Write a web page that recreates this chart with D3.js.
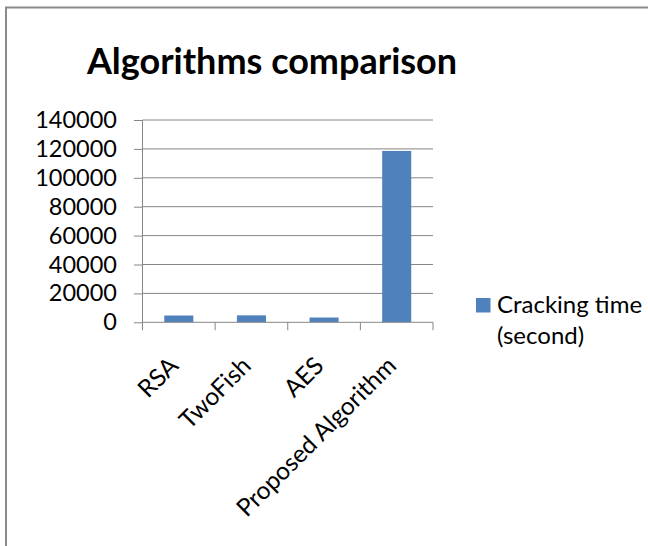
<!DOCTYPE html>
<html><head><meta charset="utf-8">
<script src="https://cdn.jsdelivr.net/npm/d3@7"></script>
<style>html,body{margin:0;padding:0;background:#fff;}</style>
</head><body>
<svg id="chart" width="648" height="546"></svg>
<script>
const categories = ["RSA", "TwoFish", "AES", "Proposed Algorithm"];
const values = [4700, 4800, 3300, 118600];
const yTicks = [0, 20000, 40000, 60000, 80000, 100000, 120000, 140000];
const seriesName = ["Cracking time", "(second)"];
const title = "Algorithms comparison";

const svg = d3.select("#chart");
const font = "Lato, 'Open Sans', sans-serif";
// frame
svg.append("path").attr("d", "M6,546 V7.5 H648").attr("fill", "none").attr("stroke", "#8a8a8a").attr("stroke-width", 2);

const m = {left: 142.5, right: 433, top: 120, bottom: 322.3};
const x = d3.scaleBand().domain(categories).range([m.left, m.right]).paddingInner(0.6).paddingOuter(0.3);
const xb = d3.scaleBand().domain(categories).range([m.left, m.right]);
const y = d3.scaleLinear().domain([0, 140000]).range([m.bottom, m.top]);

// gridlines
svg.append("g").selectAll("line").data(yTicks.slice(1)).join("line")
  .attr("x1", m.left).attr("x2", m.right)
  .attr("y1", d => y(d)).attr("y2", d => y(d))
  .attr("stroke", "#868686").attr("stroke-width", 1);

// y axis
const ya = svg.append("g").attr("transform", `translate(${m.left},0)`)
  .call(d3.axisLeft(y).tickValues(yTicks).tickSize(8.5).tickPadding(17).tickFormat(d3.format("d")));
ya.selectAll("path,line").attr("stroke", "#868686");
ya.select(".domain").attr("d", `M0,${m.bottom}V${m.top}`);
ya.selectAll("text").attr("font-family", font).attr("font-size", 23.5).attr("fill", "#000");

// bars
svg.append("g").selectAll("rect").data(values).join("rect")
  .attr("x", (d, i) => x(categories[i]))
  .attr("width", x.bandwidth())
  .attr("y", d => y(d))
  .attr("height", d => y(0) - y(d))
  .attr("fill", "#4F81BD");

// x axis
const xa = svg.append("g").attr("transform", `translate(0,${m.bottom})`);
xa.append("line").attr("x1", m.left).attr("x2", m.right).attr("y1", 0).attr("y2", 0).attr("stroke", "#868686");
const bounds = categories.map(c => xb(c)).concat([m.right]);
xa.selectAll("line.tk").data(bounds).join("line").attr("class", "tk")
  .attr("x1", d => d).attr("x2", d => d).attr("y1", 0).attr("y2", 8)
  .attr("stroke", "#868686");
xa.selectAll("text").data(categories).join("text")
  .attr("transform", d => `translate(${xb(d) + xb.bandwidth() / 2 + 1},${45}) rotate(-45)`)
  .attr("text-anchor", "end")
  .attr("font-family", font).attr("font-size", 24.5).attr("fill", "#000")
  .text(d => d);

// title
svg.append("text").attr("x", 272).attr("y", 74).attr("text-anchor", "middle")
  .attr("font-family", font).attr("font-weight", "bold").attr("font-size", 36).attr("fill", "#000")
  .text(title);

// legend
svg.append("rect").attr("x", 476).attr("y", 298).attr("width", 14.5).attr("height", 14.5).attr("fill", "#4F81BD");
svg.append("text").attr("font-family", font).attr("font-size", 24).attr("fill", "#000")
  .selectAll("tspan").data(seriesName).join("tspan")
  .attr("x", 497).attr("y", (d, i) => 313 + i * 31).text(d => d);
</script>
</body></html>
